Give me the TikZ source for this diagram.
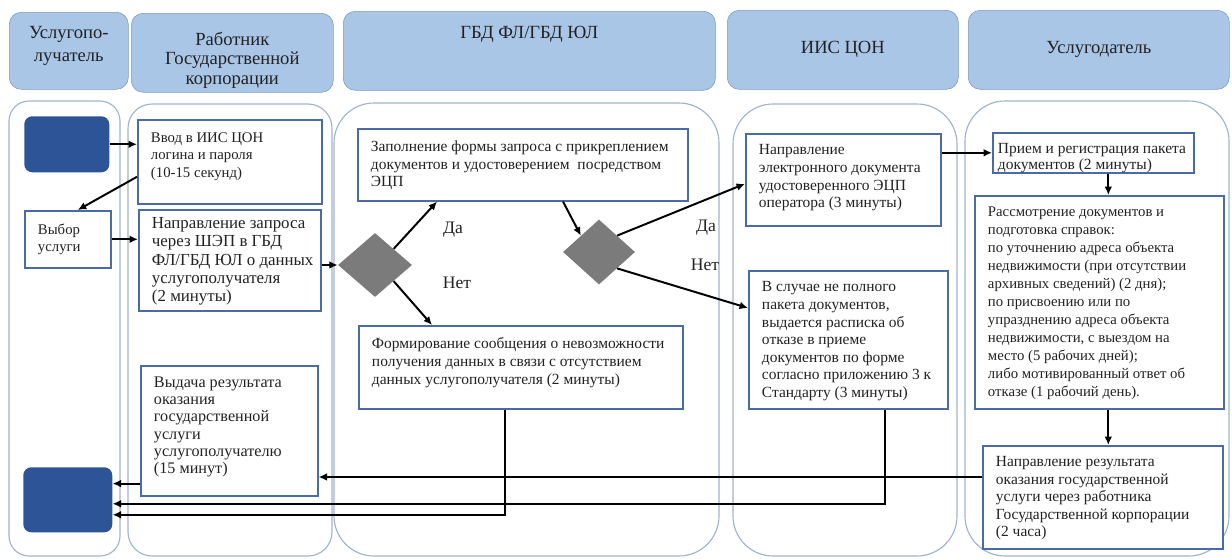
\documentclass[tikz,border=0pt]{standalone}
\usepackage{fontspec}
\setmainfont{Liberation Serif}
\usetikzlibrary{shapes.geometric,calc,arrows.meta}

\definecolor{headfill}{HTML}{A9C6E7}
\definecolor{headline}{HTML}{7D99BE}
\definecolor{laneline}{HTML}{9FB3CD}
\definecolor{boxline}{HTML}{4B6BA6}
\definecolor{termfill}{HTML}{2D5497}
\definecolor{diafill}{HTML}{7B7B7B}
\definecolor{txt}{HTML}{222222}

\newcommand{\boxtxt}[4][0.175]{\parbox[c][#3cm][t]{#2cm}{\raggedright\leftskip=0.33cm\vspace*{#1cm}#4}}
\newcommand{\headtxt}[4]{\parbox[c][#2cm][t]{#1cm}{\centering\vspace*{#3cm}#4}}

\tikzset{
  head/.style={draw=headline, fill=headfill, rounded corners=0.3cm, inner sep=0pt,
    anchor=north west, text=txt, font=\fontsize{13.2}{16}\selectfont},
  lane/.style={draw=laneline, line width=0.8pt},
  stepbox/.style={draw=boxline, line width=1.1pt, fill=white, anchor=north west,
    inner xsep=0pt, inner ysep=0.1cm, text=txt, font=\fontsize{11}{12.5}\selectfont},
  term/.style={fill=termfill, rounded corners=0.2cm, anchor=north west, inner sep=0pt},
  decision/.style={diamond, fill=diafill, inner sep=0pt, aspect=1.15},
  answer/.style={text=txt, font=\fontsize{12.5}{14}\selectfont},
  flow/.style={-{Latex[length=6pt,width=5.5pt]}, line width=1.4pt},
}

\begin{document}
\begin{tikzpicture}[x=0.025cm, y=-0.025cm]
  \useasboundingbox (0,0) rectangle (1232,559);

  % Lanes
  \draw[lane, rounded corners=0.5cm] (9,101) rectangle (120,556);
  \draw[lane, rounded corners=0.6cm] (128,104) rectangle (332,556);
  \draw[lane, rounded corners=1cm] (334,103) rectangle (719,556);
  \draw[lane, rounded corners=1cm] (733,104) rectangle (957,556);
  \draw[lane, rounded corners=1cm] (965,101) rectangle (1229,556);

  % Headers
  \node[head] (h1) at (9,12)   {\headtxt{2.975}{1.925}{0.36}{Услугопо-\\лучатель}};
  \node[head, font=\fontsize{13.2}{13.8}\selectfont]
              (h2) at (131,13) {\headtxt{5.05}{1.975}{0.47}{Работник\\Государственной\\корпорации}};
  \node[head] (h3) at (343,11) {\headtxt{9.3}{1.975}{0.38}{ГБД ФЛ/ГБД ЮЛ}};
  \node[head] (h4) at (727,10) {\headtxt{5.775}{1.975}{0.78}{ИИС ЦОН}};
  \node[head] (h5) at (968,10) {\headtxt{6.525}{1.975}{0.78}{Услугодатель}};

  % Define nodes
  \node[term, minimum width=2.125cm, minimum height=1.4cm]   (start) at (24,116) {};
  \node[term, minimum width=2.225cm, minimum height=1.625cm] (end)   at (23,467) {};

  \node[stepbox, font=\fontsize{10.5}{12.5}\selectfont]
                 (vvod)    at (137,119) {\boxtxt[0.22]{4.6}{1.9}{Ввод в ИИС ЦОН\\логина и пароля\\(10-15 секунд)}};
  \node[stepbox, font=\fontsize{10.5}{12.5}\selectfont]
                 (vybor)   at (24,210)  {\boxtxt[0.22]{2.15}{1.225}{Выбор\\услуги}};
  \node[stepbox, font=\fontsize{12}{12.9}\selectfont]
                 (zapros)  at (138,209) {\boxtxt[0.1]{4.55}{2.325}{Направление запроса\\через ШЭП в ГБД\\ФЛ/ГБД ЮЛ о данных\\услугополучателя\\(2 минуты)}};
  \node[stepbox, font=\fontsize{11.5}{12.3}\selectfont]
                 (vydacha) at (140,365) {\boxtxt{4.425}{3.05}{Выдача результата\\оказания\\государственной\\услуги\\услугополучателю\\(15 минут)}};

  \node[stepbox] (forma)   at (357,128) {\boxtxt[0.2]{8.25}{1.6}{Заполнение формы запроса с прикреплением\\документов и удостоверением~ посредством\\ЭЦП}};
  \node[decision, minimum width=1.85cm, minimum height=1.6cm]  (d1) at (375,265) {};
  \node[decision, minimum width=1.8cm, minimum height=1.625cm] (d2) at (599,252) {};
  \node[answer] (da1)  at (453,230) {Да};
  \node[answer] (net1) at (457,283) {Нет};
  \node[answer] (da2)  at (706,228) {Да};
  \node[answer] (net2) at (705,265) {Нет};
  \node[stepbox] (formir)  at (358,325) {\boxtxt[0.2]{8.1}{1.875}{Формирование сообщения о невозможности\\получения данных в связи с отсутствием\\данных услугополучателя (2 минуты)}};

  \node[stepbox] (ecp)     at (745,133) {\boxtxt{4.875}{2.1}{Направление\\электронного документа\\удостоверенного ЭЦП\\оператора (3 минуты)}};
  \node[stepbox] (otkaz)   at (748,270) {\boxtxt{4.975}{3.25}{В случае не полного\\пакета документов,\\выдается расписка об\\отказе в приеме\\документов по форме\\согласно приложению 3 к\\Стандарту (3 минуты)}};

  \node[stepbox, font=\fontsize{11}{11.5}\selectfont]
                 (priem)   at (992,132) {\boxtxt[0.16]{5.025}{0.8}{\hspace*{-0.2cm}Прием и регистрация пакета\\\hspace*{-0.2cm}документов (2 минуты)}};
  \node[stepbox, font=\fontsize{10.5}{12.8}\selectfont]
                 (rassm)   at (974,195) {\boxtxt{6.225}{5.125}{Рассмотрение документов и\\подготовка справок:\\по уточнению адреса объекта\\недвижимости (при отсутствии\\архивных сведений) (2 дня);\\по присвоению или по\\упразднению адреса объекта\\недвижимости, с выездом на\\место (5 рабочих дней);\\либо мотивированный ответ об\\отказе (1 рабочий день).}};
  \node[stepbox, font=\fontsize{11}{12.4}\selectfont]
                 (rezult)  at (982,445) {\boxtxt{6.0}{2.375}{Направление результата\\оказания государственной\\услуги через работника\\Государственной корпорации\\(2 часа)}};

  \coordinate (r1) at ($(rezult.north west)+(0,32)$);
  \coordinate (v1) at ($(vydacha.south west)+(0,-13)$);

  % Connect the nodes
  \draw[flow] (start.east) -- (start.east -| vvod.west);
  \draw[flow] ($(vvod.west)+(0,15)$) -- ($(vybor.north)+(10,0)$);
  \draw[flow] (vybor.east) -- (vybor.east -| zapros.west);
  \draw[flow] (zapros.east |- d1.west) -- (d1.west);
  \draw[flow] (d1.north east) -- ($(forma.south west)+(80,0)$);
  \draw[flow] (d1.south east) -- ($(formir.north west)+(74,0)$);
  \draw[flow] ($(forma.south west)+(206,0)$) -- (d2.north west);
  \draw[flow] (d2.north east) -- ($(ecp.west)+(0,4)$);
  \draw[flow] (d2.south east) -- ($(otkaz.north west)+(0,38)$);
  \draw[flow] (ecp.east |- priem.west) -- (priem.west);
  \draw[flow] ([xshift=0.375cm]priem.south) -- ([xshift=0.375cm]priem.south |- rassm.north);
  \draw[flow] ([xshift=0.225cm]rassm.south) -- ([xshift=0.225cm]rassm.south |- rezult.north);
  \draw[flow] (r1) -- (r1 -| vydacha.east);
  \draw[flow] (v1) -- (v1 -| end.east);
  \draw[flow] ($(otkaz.south west)+(137,0)$) |- ($(end.east)+(0,4)$);
  \draw[flow] ($(formir.south west)+(147,0)$) |- ($(end.east)+(0,15)$);

\end{tikzpicture}
\end{document}
